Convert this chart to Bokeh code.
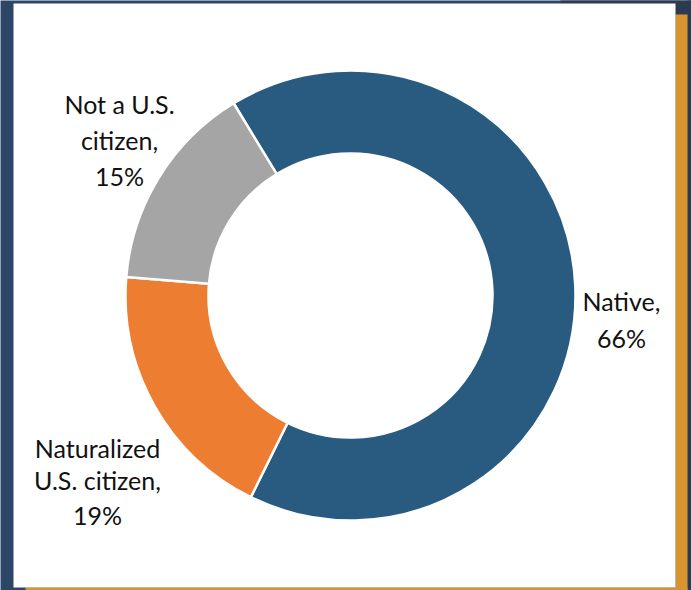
from bokeh.plotting import figure
from bokeh.embed import file_html
from bokeh.resources import INLINE
from bokeh.core.properties import value
from bokeh.models import Range1d
import math

# ---- data ----
categories = ["Native", "Naturalized U.S. citizen", "Not a U.S. citizen"]
shares = [66, 19, 15]
colors = ["#295b80", "#ed7d31", "#a5a5a5"]
label_lines = [["Native,", "66%"], ["Naturalized", "U.S. citizen,", "19%"], ["Not a U.S.", "citizen,", "15%"]]

W, H = 691, 590
p = figure(width=W, height=H, output_backend="svg", toolbar_location=None,
           x_range=Range1d(0, W), y_range=Range1d(0, H), min_border=0)
p.axis.visible = False
p.grid.visible = False
p.outline_line_color = None
p.border_fill_color = "#2b4667"
p.background_fill_color = "#2b4667"

def Y(ypix):
    return H - ypix

# slide decorations: darker strip right, orange strip and white card
p.quad(left=[687], right=[700], top=[Y(-10)], bottom=[Y(600)], fill_color="#2c3a52", line_color=None)
p.quad(left=[560], right=[700], top=[Y(-10)], bottom=[Y(14)], fill_color="#2c3a52", line_color=None)
p.quad(left=[675], right=[687], top=[Y(14)], bottom=[Y(600)], fill_color="#d8952f", line_color=None)
p.quad(left=[25], right=[687], top=[Y(587)], bottom=[Y(600)], fill_color="#d8952f", line_color=None)
p.quad(left=[13], right=[675], top=[Y(3)], bottom=[Y(587)], fill_color="#ffffff", line_color=None)

# donut
cx, cy = 350, Y(295)
r_out, r_in = 225, 142
start_deg = 121.3  # math angle where first slice starts, going clockwise
starts, ends = [], []
a = start_deg
for s in shares:
    starts.append(math.radians(a))
    a -= s / sum(shares) * 360
    ends.append(math.radians(a))

p.annular_wedge(x=[cx] * 3, y=[cy] * 3, inner_radius=r_in, outer_radius=r_out,
                inner_radius_units="screen", outer_radius_units="screen",
                start_angle=starts, end_angle=ends, direction="clock",
                fill_color=colors, line_color="white", line_width=2.5)

# labels
label_pos = [(621, [300, 337]), (97, [447, 479, 514]), (119, [103, 139, 175])]
for lines, (lx, bases) in zip(label_lines, label_pos):
    p.text(x=[lx] * len(lines), y=[Y(b) for b in bases], text=lines,
           text_align="center", text_baseline="alphabetic",
           text_font=value("Lato"), text_font_size="25px", text_color="#111111")

open("out.html", "w").write(file_html(p, INLINE))
